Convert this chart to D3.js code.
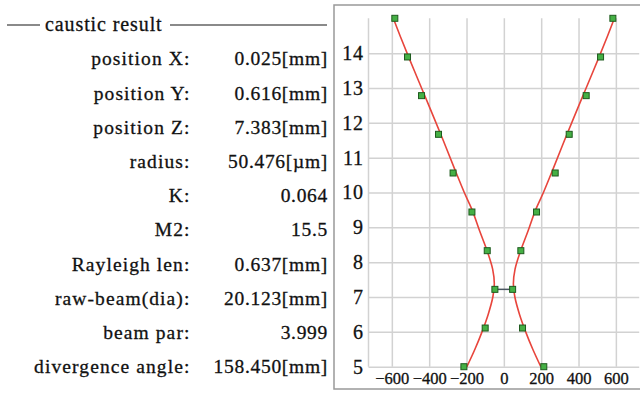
<!DOCTYPE html>
<html>
<head>
<meta charset="utf-8">
<script src="https://cdn.jsdelivr.net/npm/d3@7"></script>
<style>
  body { margin: 0; background: #fff; }
  svg text { fill: #111; font-family: 'Liberation Serif'; stroke: #111; stroke-width: 0.3px; }
</style>
</head>
<body>
<div id="chart"></div>
<script>
// result table (left side)
const resultLabels = ["position X:", "position Y:", "position Z:", "radius:", "K:", "M2:",
    "Rayleigh len:", "raw-beam(dia):", "beam par:", "divergence angle:"];
const resultValues = ["0.025[mm]", "0.616[mm]", "7.383[mm]", "50.476[\u00b5m]", "0.064", "15.5",
    "0.637[mm]", "20.123[mm]", "3.999", "158.450[mm]"];

// measured points: z position and beam edge on both sides
const pointZ = [5.0, 6.11, 7.22, 8.33, 9.44, 10.56, 11.67, 12.78, 13.89, 15.0];
const pointLeft = [-214, -100, -48, -89, -171, -272, -350, -441, -516, -584];
const pointRight = [214, 100, 47, 91, 175, 275, 350, 441, 518, 584];

// fitted caustic (red)
const fitZ = [5.0, 5.5, 6.0, 6.5, 7.0, 7.38, 7.8, 8.3, 8.9, 9.5, 10.0, 10.6, 11.5, 12.5, 13.5, 14.5, 15.0];
const fitHalf = [198, 155, 117, 84, 59, 51, 60, 88, 130, 170, 212, 258, 325, 402, 480, 556, 592];

const xTicks = [-600, -400, -200, 0, 200, 400, 600];
const yTicks = [5, 6, 7, 8, 9, 10, 11, 12, 13, 14];

const width = 640, height = 393;
const font = "'Liberation Serif'";

const svg = d3.select("#chart")
    .append("svg")
    .attr("width", width)
    .attr("height", height);

// ---- left: result table ----
svg.append("line")
    .attr("x1", 7).attr("x2", 40).attr("y1", 25).attr("y2", 25)
    .attr("stroke", "#8a8a8a").attr("stroke-width", 2);
svg.append("line")
    .attr("x1", 170).attr("x2", 327).attr("y1", 25).attr("y2", 25)
    .attr("stroke", "#8a8a8a").attr("stroke-width", 2);
svg.append("text")
    .attr("x", 45).attr("y", 24).attr("dy", "0.35em")
    .style("font-family", font).style("font-size", "20px")
    .style("letter-spacing", "0.9px")
    .text("caustic result");

const rowScale = d3.scalePoint()
    .domain(resultLabels)
    .range([58.5, 366.5]);

const rows = svg.append("g")
    .selectAll("g")
    .data(resultLabels)
    .enter()
    .append("g")
    .attr("transform", d => `translate(0,${rowScale(d)})`);

rows.append("text")
    .attr("x", 190.5).attr("dy", "0.35em")
    .attr("text-anchor", "end")
    .style("font-family", font).style("font-size", "19.5px")
    .style("letter-spacing", "1.1px")
    .text(d => d);

rows.append("text")
    .attr("x", 328).attr("dy", "0.35em")
    .attr("text-anchor", "end")
    .style("font-family", font).style("font-size", "19.5px")
    .style("letter-spacing", "0.7px")
    .text((d, i) => resultValues[i]);

// ---- right: caustic plot ----
svg.append("rect")
    .attr("x", 334).attr("y", 5)
    .attr("width", 340).attr("height", 384)
    .attr("fill", "#fff")
    .attr("stroke", "#999").attr("stroke-width", 1.5);

const x = d3.scaleLinear().domain([-725, 725]).range([368.5, 639.2]);
const y = d3.scaleLinear().domain([5, 15]).range([366.7, 18.3]);

const plotW = x.range()[1] - x.range()[0];
const plotH = y.range()[0] - y.range()[1];

// vertical grid + x labels
const xAxis = svg.append("g")
    .attr("transform", `translate(0,${y(5)})`)
    .call(d3.axisBottom(x).tickValues(xTicks).tickSize(-plotH).tickPadding(6)
        .tickFormat(d3.format("d")));

// horizontal grid + y labels
const yAxis = svg.append("g")
    .attr("transform", `translate(${x(-725)},0)`)
    .call(d3.axisLeft(y).tickValues(yTicks).tickSize(-plotW).tickPadding(5)
        .tickFormat(d3.format("d")));

[xAxis, yAxis].forEach(a => {
    a.select(".domain").remove();
    a.selectAll(".tick line").attr("stroke", "#d2d2d2").attr("stroke-width", 1.5);
    a.selectAll(".tick text")
        .attr("font-family", null)
        .style("font-family", font)
        .style("fill", "#111");
});
xAxis.selectAll(".tick text").style("font-size", "16.5px");
yAxis.selectAll(".tick text").style("font-size", "20px").style("letter-spacing", "0.6px");

// left edge of plot area
svg.append("line")
    .attr("x1", x(-725)).attr("x2", x(-725))
    .attr("y1", y(15)).attr("y2", y(5))
    .attr("stroke", "#d2d2d2").attr("stroke-width", 1.5);

// fitted caustic
const fitLine = d3.line()
    .x(d => x(d[0]))
    .y(d => y(d[1]))
    .curve(d3.curveCatmullRom);

svg.append("path")
    .datum(fitZ.map((z, i) => [-fitHalf[i], z]))
    .attr("d", fitLine)
    .attr("fill", "none").attr("stroke", "#e8453c").attr("stroke-width", 1.6);

svg.append("path")
    .datum(fitZ.map((z, i) => [fitHalf[i], z]))
    .attr("d", fitLine)
    .attr("fill", "none").attr("stroke", "#e8453c").attr("stroke-width", 1.6);

// waist marker
svg.append("line")
    .attr("x1", x(pointLeft[2])).attr("x2", x(pointRight[2]))
    .attr("y1", y(pointZ[2])).attr("y2", y(pointZ[2]))
    .attr("stroke", "#4a5560").attr("stroke-width", 1.5);

// measured points
const pts = pointZ.map((z, i) => [pointLeft[i], z])
    .concat(pointZ.map((z, i) => [pointRight[i], z]));

svg.append("g")
    .selectAll("rect")
    .data(pts)
    .enter()
    .append("rect")
    .attr("x", d => x(d[0]) - 3)
    .attr("y", d => y(d[1]) - 3)
    .attr("width", 6)
    .attr("height", 6)
    .attr("fill", "#45b045")
    .attr("stroke", "#1e5a1e")
    .attr("stroke-width", 1);
</script>
</body>
</html>
